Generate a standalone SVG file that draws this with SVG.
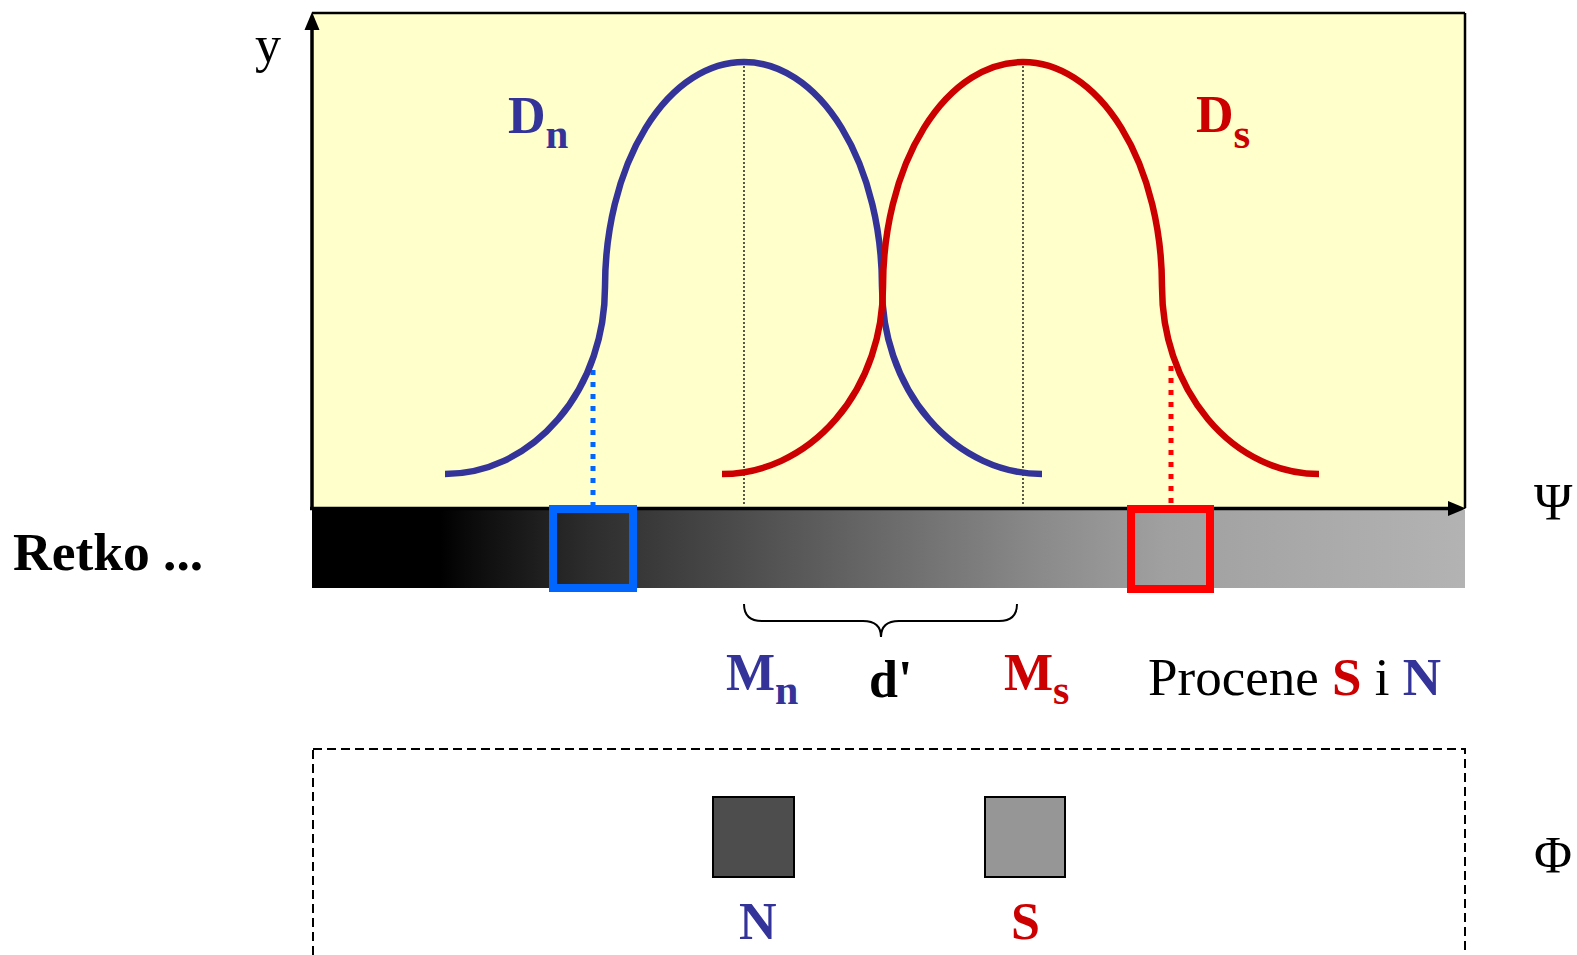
<svg xmlns="http://www.w3.org/2000/svg" width="1577" height="955" viewBox="0 0 1577 955">
<style>
  text { font-family: "Liberation Serif", "Times New Roman", serif; }
  .b { font-weight: bold; }
  .blue { fill: #333399; }
  .red { fill: #cc0000; }
  .blk { fill: #000000; }
  .curve { fill: none; stroke-width: 6.5; }
  .mean { stroke: #000; stroke-width: 1.3; stroke-dasharray: 2 2; fill: none; }
  .crit { stroke-width: 5; stroke-dasharray: 5 7; fill: none; }
  .axis { stroke: #000; stroke-width: 3.5; fill: none; }
</style>
<defs>
  <linearGradient id="g" gradientUnits="userSpaceOnUse" x1="312" y1="0" x2="1465" y2="0">
    <stop offset="0" stop-color="#000"/>
    <stop offset="0.111" stop-color="#000"/>
    <stop offset="0.135" stop-color="#0a0a0a"/>
    <stop offset="0.24" stop-color="#2d2d2d"/>
    <stop offset="0.64" stop-color="#8c8c8c"/>
    <stop offset="0.74" stop-color="#a0a0a0"/>
    <stop offset="1" stop-color="#b3b3b3"/>
  </linearGradient>
</defs>
<g id="plot">
  <rect x="312" y="13" width="1153" height="495" fill="#ffffcc"/>
  <line x1="312" y1="13" x2="1465" y2="13" stroke="#000" stroke-width="2.5"/>
  <line x1="1465" y1="13" x2="1465" y2="508" stroke="#000" stroke-width="2.5"/>
</g>
<g id="means">
  <line class="mean" x1="744" y1="62" x2="744" y2="505"/>
  <line class="mean" x1="1023" y1="62" x2="1023" y2="505"/>
</g>
<g id="criteria">
  <line class="crit" stroke="#0066ff" x1="593" y1="370" x2="593" y2="506"/>
  <line class="crit" stroke="#ff0000" x1="1171" y1="366" x2="1171" y2="506"/>
</g>
<g id="Dn-curve">
  <path class="curve" stroke="#333399" d="M 445 474 A 160 187 0 0 0 605 287 A 139 225 0 0 1 744 62 A 138 225 0 0 1 882 287 A 160 187 0 0 0 1042 474"/>
</g>
<g id="Ds-curve">
  <path class="curve" stroke="#cc0000" d="M 722 474 A 161 187 0 0 0 883 287 A 140 225 0 0 1 1023 62 A 139 225 0 0 1 1162 287 A 157 187 0 0 0 1319 474"/>
</g>
<g id="bar">
  <rect x="312" y="510" width="1153" height="78" fill="url(#g)"/>
</g>
<g id="axes">
  <line class="axis" x1="312" y1="510" x2="312" y2="26"/>
  <polygon points="312,12 304.5,30 319.5,30" fill="#000"/>
  <line class="axis" x1="310" y1="508.5" x2="1450" y2="508.5"/>
  <polygon points="1466,508.5 1448,501 1448,516" fill="#000"/>
</g>
<g id="blue-box">
  <rect x="553" y="509" width="80" height="79" fill="none" stroke="#0066ff" stroke-width="8"/>
</g>
<g id="red-box">
  <rect x="1131" y="509" width="79" height="80" fill="none" stroke="#ff0000" stroke-width="8"/>
</g>
<g id="brace">
  <path d="M 744 604 Q 744 621 762 621 L 863 621 Q 881 621 881 637 Q 881 621 899 621 L 999 621 Q 1017 621 1017 604" fill="none" stroke="#000" stroke-width="2"/>
</g>
<g id="labels">
  <text x="255" y="62" font-size="52" class="blk">y</text>
  <text x="508" y="133" font-size="52" class="b blue">D<tspan font-size="41" dy="15">n</tspan></text>
  <text x="1196" y="132" font-size="52" class="b red">D<tspan font-size="43" dy="16">s</tspan></text>
  <text x="13" y="570" font-size="53.5" class="b blk">Retko ...</text>
  <text x="1534" y="520" font-size="52" class="blk">Ψ</text>
  <text x="726" y="690" font-size="52" class="b blue">M<tspan font-size="42" dy="14">n</tspan></text>
  <text x="869" y="697" font-size="52" class="b blk">d'</text>
  <text x="1004" y="690" font-size="52" class="b red">M<tspan font-size="42" dy="14">s</tspan></text>
  <text x="1148" y="695" font-size="53" class="blk">Procene <tspan class="b red">S</tspan> i <tspan class="b blue">N</tspan></text>
</g>
<g id="stimulus-box">
  <rect x="313" y="749" width="1152" height="260" fill="none" stroke="#000" stroke-width="2" stroke-dasharray="9 5"/>
</g>
<g id="N-node">
  <rect x="713" y="797" width="81" height="80" fill="#4d4d4d" stroke="#000" stroke-width="2"/>
  <text x="739" y="939" font-size="52" class="b blue">N</text>
</g>
<g id="S-node">
  <rect x="985" y="797" width="80" height="80" fill="#969696" stroke="#000" stroke-width="2"/>
  <text x="1011" y="939" font-size="52" class="b red">S</text>
</g>
<text x="1534" y="873" font-size="52" class="blk">Φ</text>
</svg>
